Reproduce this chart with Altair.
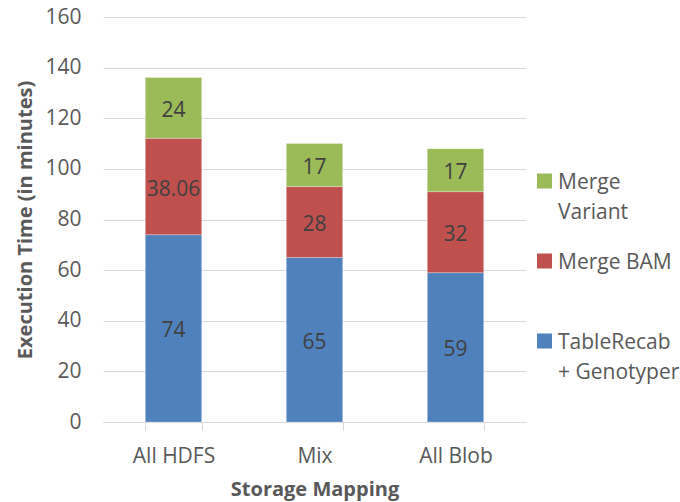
import altair as alt
import pandas as pd

# Stacked execution-time breakdown per storage mapping
categories = ["All HDFS", "Mix", "All Blob"]
series = ["TableRecab + Genotyper", "Merge BAM", "Merge Variant"]
tablerecab_genotyper = [74, 65, 59]
merge_bam = [38.06, 28, 32]
merge_variant = [24, 17, 17]
colors = ["#4F81BD", "#C0504D", "#9BBB59"]

# Legend entries, listed top to bottom, with their wrapped label lines
legend_series = ["Merge Variant", "Merge BAM", "TableRecab + Genotyper"]
legend_lines = [["Merge", "Variant"], ["Merge BAM"], ["TableRecab", "+ Genotyper"]]
y_ticks = [0, 20, 40, 60, 80, 100, 120, 140, 160]

FONT = "Open Sans"
W, H = 423, 405

rows = []
for i, cat in enumerate(categories):
    for k, (name, vals) in enumerate(
        zip(series, [tablerecab_genotyper, merge_bam, merge_variant])
    ):
        rows.append({"category": cat, "series": name, "value": vals[i], "rank": k})
df = pd.DataFrame(rows)

color_scale = alt.Scale(domain=series, range=colors)

base = (
    alt.Chart(df)
    .transform_stack(
        stack="value",
        groupby=["category"],
        as_=["y0", "y1"],
        sort=[alt.SortField("rank", order="ascending")],
    )
    .transform_calculate(mid="(datum.y0 + datum.y1) / 2")
)

x_enc = alt.X(
    "category:N",
    sort=categories,
    scale=alt.Scale(paddingInner=0.6, paddingOuter=0.3),
    axis=alt.Axis(
        title="Storage Mapping",
        labelAngle=0,
        labelFont=FONT,
        labelFontSize=21,
        labelColor="#595959",
        labelBaseline="middle",
        labelPadding=26,
        domainColor="#D9D9D9",
        tickColor="#D9D9D9",
        tickSize=8,
        tickBand="extent",
        titleFont=FONT,
        titleFontSize=20,
        titleFontWeight="bold",
        titleColor="#595959",
        titleX=W / 2,
        titleY=67,
        titleBaseline="middle",
    ),
)

y_scale = alt.Scale(domain=[0, 160], nice=False)

bars = base.mark_bar(stroke="white", strokeOpacity=0.35, strokeWidth=0.8).encode(
    x=x_enc,
    y=alt.Y(
        "y0:Q",
        scale=y_scale,
        axis=alt.Axis(
            title="Execution Time (in minutes)",
            values=y_ticks,
            grid=True,
            gridColor="#D9D9D9",
            gridWidth=1,
            domain=False,
            ticks=False,
            tickSize=0,
            labelFont=FONT,
            labelFontSize=21,
            labelColor="#595959",
            labelPadding=22,
            titleFont=FONT,
            titleFontSize=20,
            titleFontWeight="bold",
            titleColor="#595959",
            titleX=-78,
            titleY=H / 2,
            titleBaseline="middle",
        ),
    ),
    y2="y1:Q",
    color=alt.Color("series:N", scale=color_scale, legend=None),
)

labels = base.mark_text(
    font=FONT, fontSize=21, color="#404040", baseline="middle", align="center", dy=3
).encode(
    x=alt.X("category:N", sort=categories),
    y=alt.Y("mid:Q", scale=y_scale),
    text=alt.Text("value:Q", format="~f"),
)

# Hand-placed legend at the right of the plot
leg_rows, sym_rows = [], []
for j, (name, lines) in enumerate(zip(legend_series, legend_lines)):
    cy = 164 + j * 80
    sym_rows.append({"series": name, "px": 441.5, "py": cy})
    for li, line in enumerate(lines):
        leg_rows.append({"txt": line, "px": 455, "py": cy + li * 30})

legend_symbols = (
    alt.Chart(pd.DataFrame(sym_rows))
    .mark_square(size=225, opacity=1)
    .encode(
        x=alt.X("px:Q", scale=None),
        y=alt.Y("py:Q", scale=None),
        color=alt.Color("series:N", scale=color_scale, legend=None),
    )
)
legend_text = (
    alt.Chart(pd.DataFrame(leg_rows))
    .mark_text(font=FONT, fontSize=21, color="#595959", align="left", baseline="middle", dy=2)
    .encode(
        x=alt.X("px:Q", scale=None),
        y=alt.Y("py:Q", scale=None),
        text="txt:N",
    )
)

chart = (
    alt.layer(bars, labels, legend_symbols, legend_text)
    .properties(
        width=W,
        height=H,
        autosize=alt.AutoSizeParams(type="none"),
        padding={"left": 103, "top": 17, "right": 154, "bottom": 80},
        background="white",
    )
    .configure_view(stroke=None)
)

chart.save("out.html", embed_options={"renderer": "svg", "actions": False})
